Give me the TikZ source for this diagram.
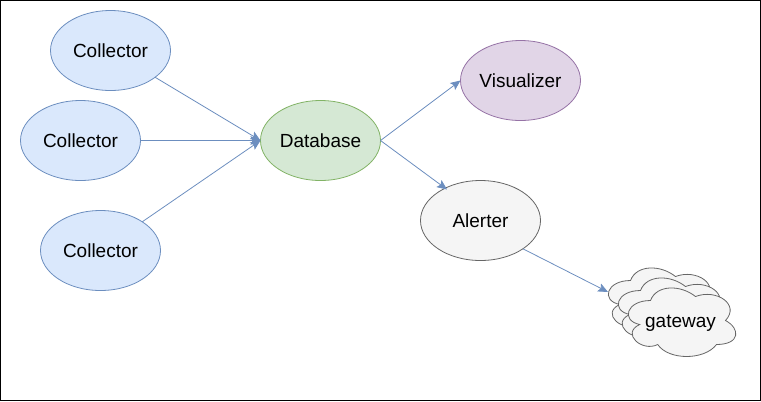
\documentclass[tikz,border=0pt]{standalone}
\usepackage{fontspec}
\setmainfont{Liberation Sans}
\usetikzlibrary{arrows.meta, shapes.geometric}
\tikzset{
  label/.style={font=\fontsize{14.25}{17}\selectfont, text height=13pt, text depth=2pt, inner sep=0pt, outer sep=0pt},
  bubble/.style={label, ellipse, draw, line width=0.6pt, minimum width=90pt, minimum height=60pt},
  link/.style={draw=linkblue, line width=0.6pt, -{Stealth[length=7.5pt, width=6.5pt, inset=1.5pt]}}
}
\definecolor{blueback}{HTML}{DAE8FC}
\definecolor{linkblue}{HTML}{6C8EBF}
\definecolor{greenback}{HTML}{D5E8D4}
\definecolor{greenline}{HTML}{82B366}
\definecolor{purpleback}{HTML}{E1D5E7}
\definecolor{purpleline}{HTML}{9673A6}
\definecolor{greyback}{HTML}{F5F5F5}
\definecolor{greyline}{HTML}{666666}
% cloud outline in a 120 by 80 box, #1 is the top left corner
\newcommand{\cloudat}[1]{%
  \begin{scope}[shift={(#1)}]
    \filldraw[fill=greyback, draw=greyline, line width=0.6pt]
      (30,20) .. controls (6,20) and (0,40) .. (19.2,44)
      .. controls (0,52.8) and (21.6,72) .. (37.2,64)
      .. controls (48,80) and (84,80) .. (96,64)
      .. controls (120,64) and (120,48) .. (105,40)
      .. controls (120,24) and (96,8) .. (75,16)
      .. controls (60,4) and (36,4) .. (30,20) -- cycle;
  \end{scope}}
\begin{document}
\begin{tikzpicture}[x=0.75pt, y=-0.75pt]
  \useasboundingbox (0,0) rectangle (761,401);
  \draw[line width=0.75pt] (0.5,0.5) rectangle (760.5,400.5);
  \foreach \p in {{600.5,260.5},{610.5,270.5},{620.5,280.5}} {
    \expandafter\cloudat\expandafter{\p}
  }
  \node[bubble, fill=blueback, draw=linkblue] (collectorA) at (110.5,50.5) {Collector};
  \node[bubble, fill=blueback, draw=linkblue] (collectorB) at (80.5,140.5) {Collector};
  \node[bubble, fill=blueback, draw=linkblue] (collectorC) at (100.5,250.5) {Collector};
  \node[bubble, fill=greenback, draw=greenline] (database) at (320.5,140.5) {Database};
  \node[bubble, fill=purpleback, draw=purpleline] (visualizer) at (520.5,80.5) {Visualizer};
  \node[bubble, fill=greyback, draw=greyline] (alerter) at (480.5,220.5) {Alerter};
  \node[label] (gateway) at (680.5,320.5) {gateway};
  \coordinate (alerterin) at (447,189.5);
  \coordinate (gatewayin) at (608,292);
  \draw[link] (collectorA) -- (database.west);
  \draw[link] (collectorB) -- (database.west);
  \draw[link] (collectorC) -- (database.west);
  \draw[link] (database.east) -- (visualizer.west);
  \draw[link] (database.east) -- (alerterin);
  \draw[link] (alerter.south east) -- (gatewayin);
\end{tikzpicture}
\end{document}
